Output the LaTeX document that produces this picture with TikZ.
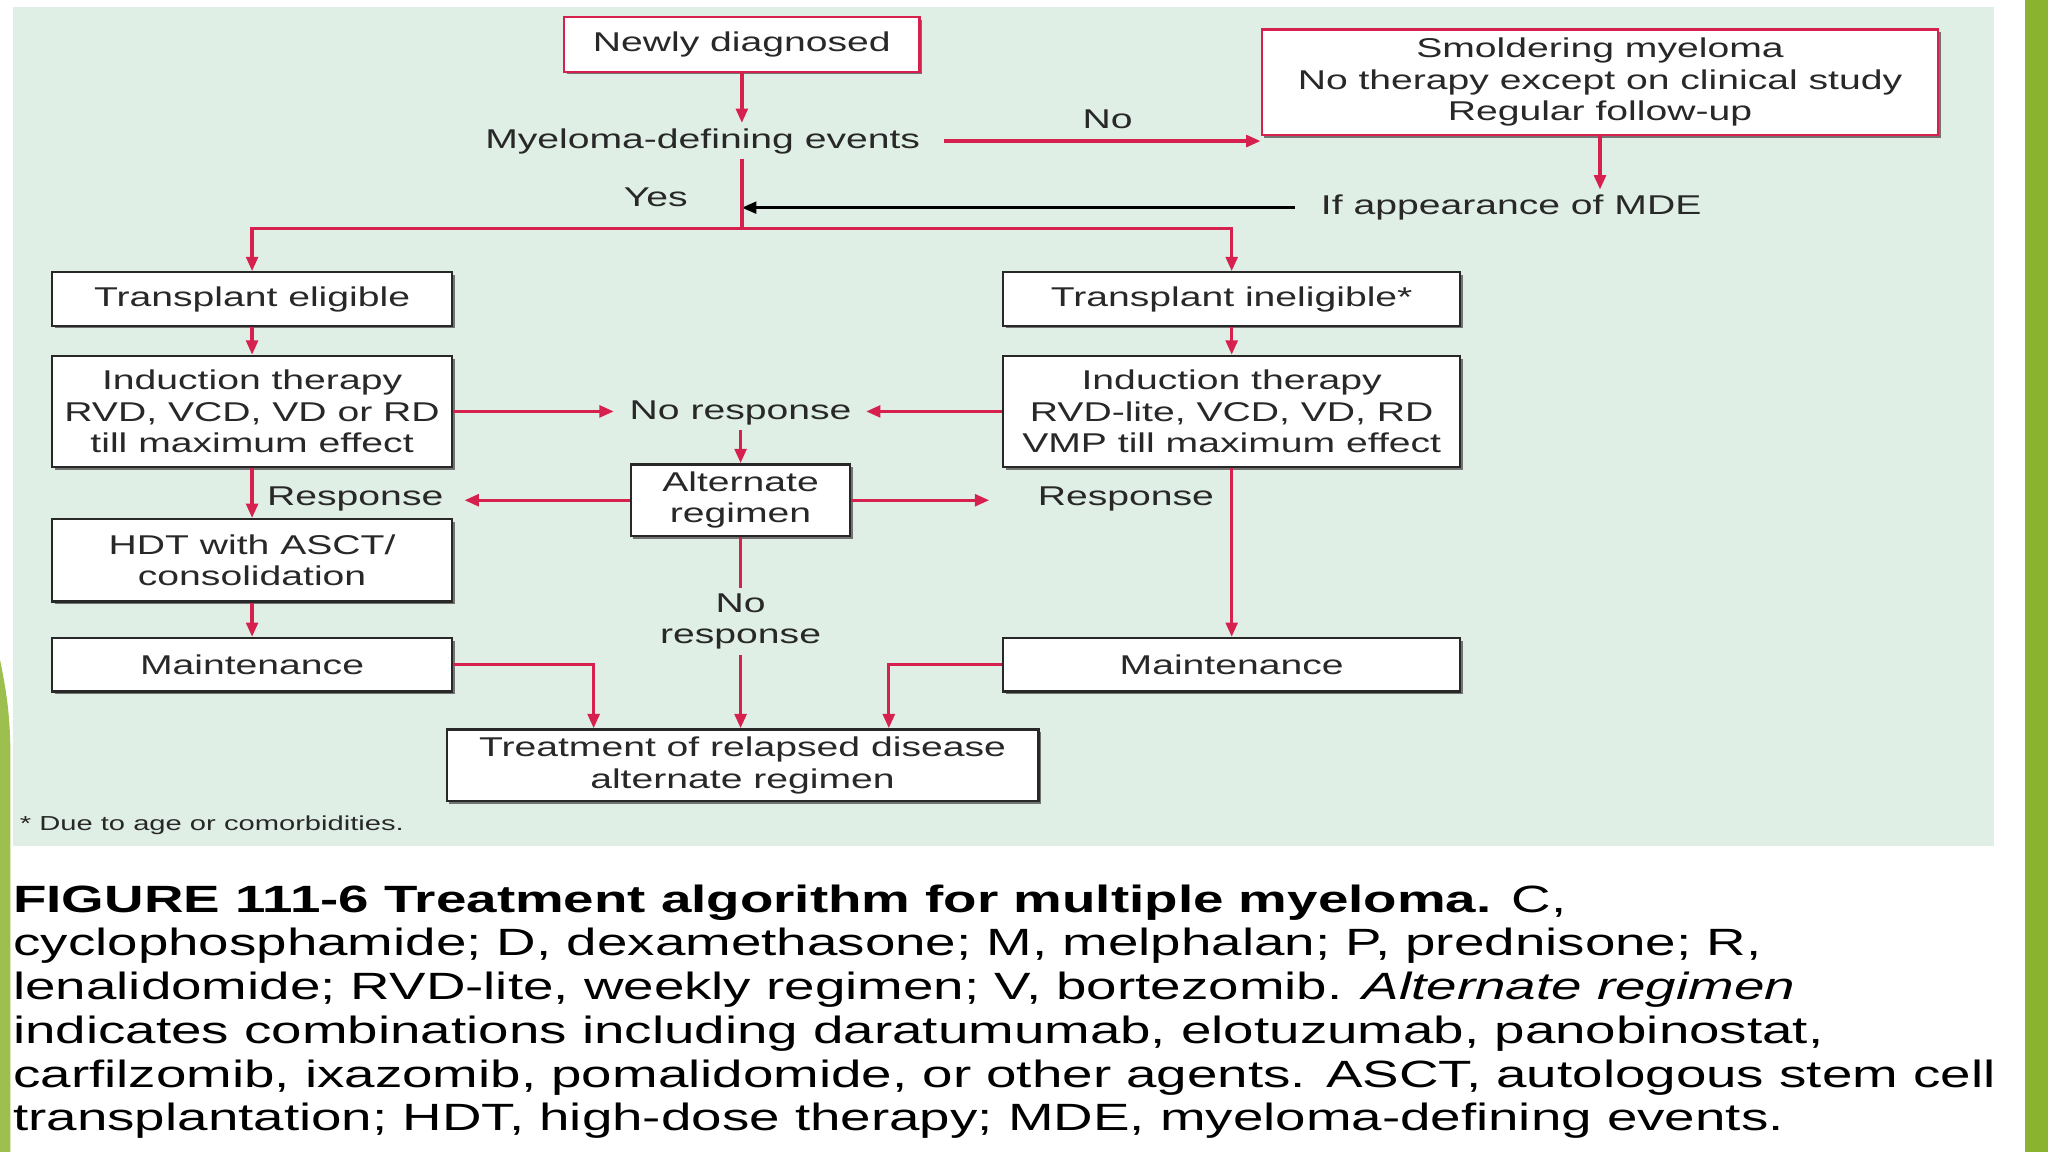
\documentclass[tikz,border=0pt]{standalone}
\usepackage{fontspec}
\setmainfont[FakeStretch=1.44]{Liberation Sans}
\usetikzlibrary{arrows.meta,shadows}
\definecolor{mred}{RGB}{214,32,78}
\definecolor{panel}{RGB}{224,239,230}
\definecolor{slide}{RGB}{138,180,48}
\definecolor{ink}{RGB}{40,40,40}
\newcommand{\boxfont}{\fontsize{20.8}{24}\selectfont}

\begin{document}
\begin{tikzpicture}[x=1pt,y=-1pt,
  box/.style={draw=ink,line width=1.8pt,fill=white,align=center,font=\boxfont,text=ink,inner sep=0pt,
    drop shadow={shadow xshift=2pt,shadow yshift=-2pt,fill=black!55,opacity=1}},
  redbox/.style={box,draw=mred},
  lbl/.style={font=\boxfont,text=ink,inner sep=4pt,align=center},
  flow/.style={draw=mred,line width=2.5pt,-{Triangle[length=11pt,width=9pt]}},
  link/.style={draw=mred,line width=2.5pt}]
  \fill[white] (0,0) rectangle (1568,882);
  \useasboundingbox (0,0) rectangle (1568,882);
  \fill[panel] (10,5) rectangle (1527,648);
  \fill[slide] (1550,0) rectangle (1568,882);
  \fill[slide!85!white] (0,505) .. controls (4,525) and (8,545) .. (8,580) -- (8,882) -- (0,882) -- cycle;

  \node[redbox,minimum width=272pt,minimum height=42pt] (new) at (568,34) {Newly diagnosed};
  \node[lbl] (mde) at (538,108) {Myeloma-defining events};
  \node[redbox,minimum width=518pt,minimum height=81pt] (smold) at (1225,63)
    {Smoldering myeloma\\No therapy except on clinical study\\Regular follow-up};
  \node[lbl] (no) at (848,91) {No};
  \node[lbl] (ifmde) at (1157,159) {If appearance of MDE};
  \node[lbl] (yes) at (502,151) {Yes};
  \coordinate (split) at (568,175);
  \node[box,minimum width=306pt,minimum height=41pt] (elig) at (193,229) {Transplant eligible};
  \node[box,minimum width=350pt,minimum height=41pt] (inelig) at (943,229) {Transplant ineligible*};
  \node[box,minimum width=306pt,minimum height=85pt] (ind1) at (193,315)
    {Induction therapy\\RVD, VCD, VD or RD\\till maximum effect};
  \node[box,minimum width=350pt,minimum height=85pt] (ind2) at (943,315)
    {Induction therapy\\RVD-lite, VCD, VD, RD\\VMP till maximum effect};
  \node[lbl] (nores) at (567,316) {No response};
  \node[box,minimum width=168pt,minimum height=55pt] (alt) at (567,383) {Alternate\\regimen};
  \node[lbl] (resl) at (272,382) {Response};
  \node[lbl] (resr) at (862,382) {Response};
  \node[box,minimum width=306pt,minimum height=63pt] (hdt) at (193,429) {HDT with ASCT/\\consolidation};
  \node[box,minimum width=306pt,minimum height=41pt] (maintl) at (193,509) {Maintenance};
  \node[box,minimum width=350pt,minimum height=41pt] (maintr) at (943,509) {Maintenance};
  \node[lbl] (nores2) at (567,476) {No\\response};
  \node[box,minimum width=453pt,minimum height=55pt] (treat) at (568.5,586)
    {Treatment of relapsed disease\\alternate regimen};
  \node[anchor=west,font=\fontsize{15.5}{18}\selectfont,text=ink,inner sep=0pt] (foot) at (15,632)
    {* Due to age or comorbidities.};
  \node[anchor=north west,align=left,inner sep=0pt,font=\fontsize{29.1}{33.5}\selectfont] (cap) at (10,677)
    {\textbf{FIGURE 111-6 Treatment algorithm for multiple myeloma.} C,\\
     cyclophosphamide; D, dexamethasone; M, melphalan; P, prednisone; R,\\
     lenalidomide; RVD-lite, weekly regimen; V, bortezomib. \textit{Alternate regimen}\\
     indicates combinations including daratumumab, elotuzumab, panobinostat,\\
     carfilzomib, ixazomib, pomalidomide, or other agents. ASCT, autologous stem cell\\
     transplantation; HDT, high-dose therapy; MDE, myeloma-defining events.};

  \draw[flow] (new) -- (new.south |- mde.north);
  \draw[flow,shorten <=14pt] (mde.east) -- (mde.east -| smold.west);
  \draw[flow] (smold) -- (smold.south |- ifmde.north);
  \draw[line width=2pt,-{Triangle[length=11pt,width=9pt]},shorten <=16pt] (ifmde.west) -- (ifmde.west -| split);
  \draw[link] (new.south |- mde.south) -- (split);
  \draw[flow] (split) -| (elig.north);
  \draw[flow] (split) -| (inelig.north);
  \draw[flow] (elig) -- (ind1);
  \draw[flow] (inelig) -- (ind2);
  \draw[flow,shorten >=8pt] (ind1.east) -- (ind1.east -| nores.west);
  \draw[flow,shorten >=7pt] (ind2.west) -- (ind2.west -| nores.east);
  \draw[flow] (nores) -- (alt);
  \draw[flow,shorten >=12pt] (alt.west) -- (alt.west -| resl.east);
  \draw[flow,shorten >=33pt] (alt.east) -- (alt.east -| resr.west);
  \draw[flow] (ind1) -- (hdt);
  \draw[flow] (hdt) -- (maintl);
  \draw[flow] (ind2) -- (maintr);
  \draw[link] (alt) -- (nores2);
  \draw[flow] (nores2) -- (nores2 |- treat.north);
  \draw[flow] (maintl.east) -| ([xshift=-114pt]treat.north);
  \draw[flow] (maintr.west) -| ([xshift=112pt]treat.north);
\end{tikzpicture}
\end{document}
